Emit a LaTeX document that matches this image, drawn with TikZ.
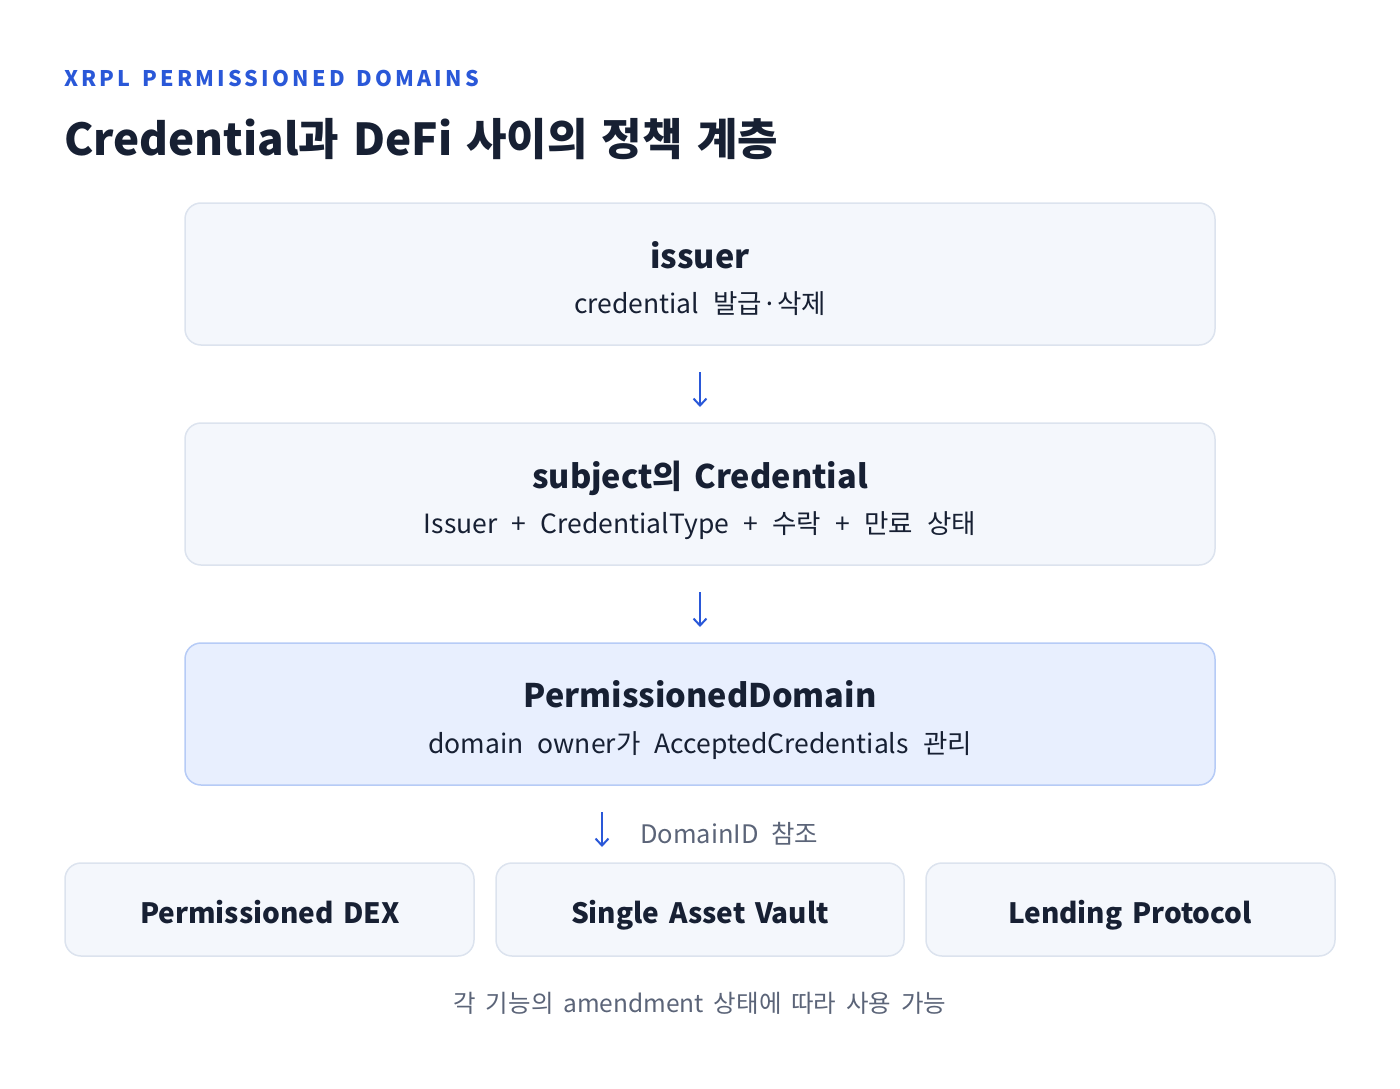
\documentclass[tikz,border=0pt]{standalone}
\usepackage{fontspec}
\setmainfont{Noto Sans CJK KR}
\usetikzlibrary{arrows.meta}
\newcommand\wsp[1]{\spaceskip=#1\fontdimen2\font\relax}
\definecolor{hblue}{HTML}{2A58D8}
\definecolor{ink}{HTML}{172033}
\definecolor{boxfill}{HTML}{F4F7FC}
\definecolor{boxline}{HTML}{DCE3EE}
\definecolor{hifill}{HTML}{E8EFFE}
\definecolor{hiline}{HTML}{B6CBF6}
\definecolor{muted}{HTML}{5B6478}
\tikzset{
  card/.style={draw=boxline, fill=boxfill, line width=1.5pt, rounded corners=16pt},
  hicard/.style={draw=hiline, fill=hifill, line width=1.5pt, rounded corners=16pt},
  ttl/.style={anchor=base, text=ink, font=\fontsize{32.5}{38}\selectfont\bfseries\wsp{1.6}, inner sep=0pt},
  sub/.style={anchor=base, text=ink, font=\fontsize{26.5}{31}\selectfont\wsp{2.4}, inner sep=0pt},
  small/.style={anchor=base, text=ink, font=\fontsize{28}{34}\selectfont\bfseries\wsp{1.5}, inner sep=0pt},
  note/.style={anchor=base, text=muted, font=\fontsize{24.5}{30}\selectfont\wsp{1.8}, inner sep=0pt},
  arr/.style={draw=hblue, line width=2pt, -{Straight Barb[length=7pt,width=13pt,line width=2pt]}}
}
\begin{document}
\begin{tikzpicture}[x=1pt,y=-1pt]
\useasboundingbox (0,0) rectangle (1400,1089);
\node[anchor=base west, inner sep=0pt, text=hblue, font=\fontsize{21.5}{26}\selectfont\bfseries\addfontfeature{LetterSpace=15}\wsp{1.4}] (hdr) at (64,87) {XRPL PERMISSIONED DOMAINS};
\node[anchor=base west, inner sep=0pt, text=ink, font=\fontsize{44}{52}\selectfont\bfseries\wsp{1.4}] (title) at (64,155) {Credential과 DeFi 사이의 정책 계층};

\draw[card] (185,203) rectangle (1215,345);
\node[ttl] (t1) at (700,268) {issuer};
\node[sub] (s1) at (700,313) {credential 발급·삭제};

\draw[card] (185,423) rectangle (1215,565);
\node[ttl] (t2) at (700,488) {subject의 Credential};
\node[sub] (s2) at (700,533) {Issuer + CredentialType + 수락 + 만료 상태};

\draw[hicard] (185,643) rectangle (1215,785);
\node[ttl] (t3) at (700,707) {PermissionedDomain};
\node[sub] (s3) at (700,753) {domain owner가 AcceptedCredentials 관리};

\coordinate (a1s) at (700,372); \coordinate (a1e) at (700,407);
\coordinate (a2s) at (700,592); \coordinate (a2e) at (700,627);
\coordinate (a3s) at (602,812); \coordinate (a3e) at (602,847);
\draw[arr] (a1s) -- (a1e);
\draw[arr] (a2s) -- (a2e);
\draw[arr] (a3s) -- (a3e);
\node[note, anchor=base west, font=\fontsize{25.5}{30}\selectfont\wsp{2.2}] (dl) at (640,843) {DomainID 참조};

\draw[card] (65,863) rectangle (474,956);
\draw[card] (496,863) rectangle (904,956);
\draw[card] (926,863) rectangle (1335,956);
\node[small] (b1) at (270,923) {Permissioned DEX};
\node[small] (b2) at (700,923) {Single Asset Vault};
\node[small] (b3) at (1130,923) {Lending Protocol};

\node[note] (foot) at (700,1012) {각 기능의 amendment 상태에 따라 사용 가능};
\end{tikzpicture}
\end{document}
